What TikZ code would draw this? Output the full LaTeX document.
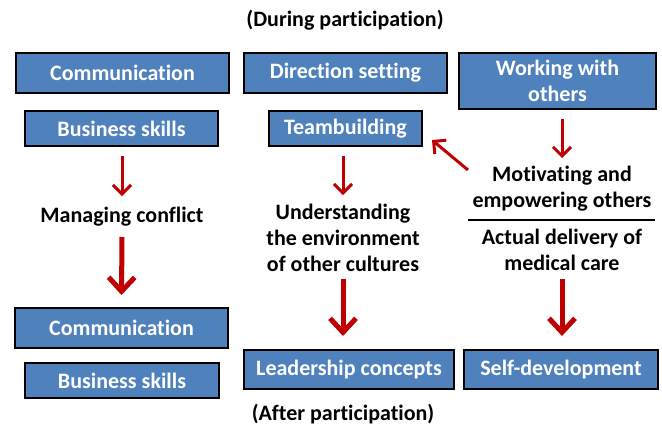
\documentclass[tikz,border=0pt]{standalone}
\usepackage{fontspec}
\setmainfont{Carlito}[Ligatures={NoCommon}]
\usetikzlibrary{arrows.meta,calc}
\definecolor{boxblue}{HTML}{4F81BD}
\definecolor{arrred}{HTML}{C00000}
\begin{document}
\begin{tikzpicture}[x=1pt,y=-1pt,
  font=\fontsize{22}{26}\selectfont\bfseries,
  bluebox/.style={draw=black,line width=1.6pt,fill=boxblue,text=white,inner sep=0pt,anchor=center},
  plain/.style={inner sep=0pt,align=center,text=black},
  arr/.style={draw=arrred,line width=3pt,-{Straight Barb[length=9pt,width=18pt,line width=3pt]}},
  bigarr/.style={draw=arrred,line width=5pt,-{Straight Barb[length=14pt,width=26pt,line width=5pt]}}]
\useasboundingbox (0,0) rectangle (662,426);
% titles
\node[plain] (during) at (345,20) {(During participation)};
\node[plain] (after) at (343,414) {(After participation)};
% top boxes
\node[bluebox,minimum width=213pt,minimum height=40pt] (comm1) at (122.5,73) {Communication};
\node[bluebox,minimum width=203pt,minimum height=40pt] (dir) at (345.5,73) {Direction setting};
\node[bluebox,minimum width=197pt,minimum height=56pt,align=center] (work) at (557.5,81) {Working with\\others};
\node[bluebox,minimum width=193pt,minimum height=35pt] (bus1) at (121.5,128.5) {Business skills};
\node[bluebox,minimum width=153pt,minimum height=35pt] (team) at (345.5,128.5) {Teambuilding};
% texts
\node[plain] (manage) at (122,217) {Managing conflict};
\node[plain] (under) at (343,238) {Understanding\\the environment\\of other cultures};
\node[plain] (motiv) at (562,189) {Motivating and\\empowering others};
\node[plain] (actual) at (562,250) {Actual delivery of\\medical care};
% bottom boxes
\node[bluebox,minimum width=213pt,minimum height=40pt] (comm2) at (121.5,328) {Communication};
\node[bluebox,minimum width=194pt,minimum height=35pt] (bus2) at (122,380.5) {Business skills};
\node[bluebox,minimum width=210pt,minimum height=39pt] (lead) at (349,369.5) {Leadership concepts};
\node[bluebox,minimum width=194pt,minimum height=39pt] (self) at (561,369.5) {Self-development};
% divider
\coordinate (divl) at (468,220);
\coordinate (divr) at (655,220);
\draw[line width=1.5pt] (divl) -- (divr);
% arrows
\draw[arr] (manage.north |- bus1.south) ++(0,9) -- (manage.north |- 0,196);
\draw[bigarr] (manage.south |- 0,237) -- (comm2.north |- 0,295);
\draw[arr] (under.north |- team.south) ++(0,9) -- (under.north |- 0,195);
\draw[bigarr] (under.south |- 0,279) -- (under.south |- 0,336);
\draw[arr] (motiv.north |- work.south) ++(0,9) -- (motiv.north |- 0,158);
\draw[bigarr] (actual.south |- 0,279) -- (actual.south |- 0,336);
\draw[arr] (468,170) coordinate (dstart) -- (432,140) coordinate (dend);
\end{tikzpicture}
\end{document}
